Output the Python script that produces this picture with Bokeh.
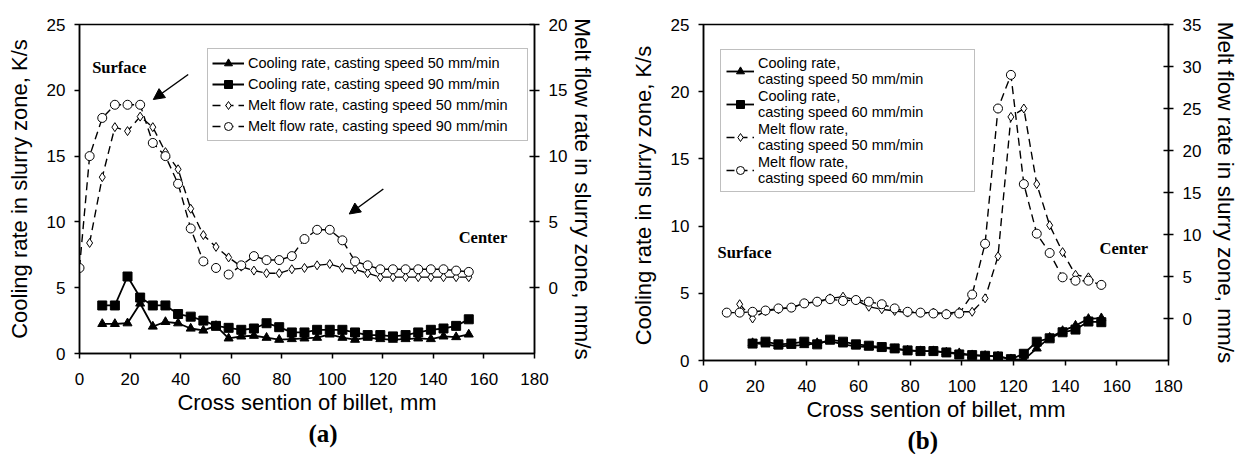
from bokeh.plotting import figure
from bokeh.models import (Range1d, LinearAxis, FixedTicker, Legend, LegendItem,
                          Arrow, NormalHead, Title, Label)
from bokeh.layouts import row
from bokeh.embed import file_html
from bokeh.resources import INLINE

# ---------------- data: panel (a) ----------------
xa_cool = [9, 14, 19, 24, 29, 34, 39, 44, 49, 54, 59, 64, 69, 74, 79, 84, 89, 94, 99, 104,
           109, 114, 119, 124, 129, 134, 139, 144, 149, 154]
cool50_a = [2.25, 2.25, 2.3, 3.8, 2.05, 2.4, 2.3, 1.9, 1.75, 2.1, 1.15, 1.3, 1.35, 1.2, 1.05,
            1.1, 1.15, 1.2, 1.45, 1.2, 1.05, 1.2, 1.1, 1.05, 1.1, 1.15, 1.1, 1.3, 1.25, 1.45]
cool90_a = [3.65, 3.65, 5.85, 4.25, 3.65, 3.65, 3.0, 2.8, 2.5, 2.1, 1.95, 1.8, 1.9, 2.3, 2.0,
            1.6, 1.6, 1.8, 1.8, 1.8, 1.6, 1.4, 1.4, 1.3, 1.4, 1.6, 1.8, 1.9, 2.1, 2.6]
xa_melt50 = [4, 9, 14, 19, 24, 29, 34, 39, 44, 49, 54, 59, 64, 69, 74, 79, 84, 89, 94, 99, 104,
             109, 114, 119, 124, 129, 134, 139, 144, 149, 154]
melt50_a = [3.4, 8.4, 12.2, 11.9, 13.0, 12.2, 10.3, 9.0, 6.0, 4.0, 3.1, 2.3, 1.6, 1.3, 1.1,
            1.1, 1.4, 1.5, 1.7, 1.8, 1.5, 1.4, 1.1, 0.8, 0.8, 0.8, 0.8, 0.8, 0.8, 0.8, 0.8]
xa_melt90 = [0, 4, 9, 14, 19, 24, 29, 34, 39, 44, 49, 54, 59, 64, 69, 74, 79, 84, 89, 94, 99,
             104, 109, 114, 119, 124, 129, 134, 139, 144, 149, 154]
melt90_a = [1.5, 10.0, 12.9, 13.9, 13.9, 13.9, 11.0, 10.0, 7.9, 4.5, 2.0, 1.5, 1.0, 1.7, 2.4,
            2.1, 2.1, 2.4, 3.7, 4.4, 4.4, 3.6, 2.0, 1.7, 1.4, 1.4, 1.4, 1.4, 1.4, 1.4, 1.3, 1.2]

# ---------------- data: panel (b) ----------------
xb_cool = [19, 24, 29, 34, 39, 44, 49, 54, 59, 64, 69, 74, 79, 84, 89, 94, 99, 104, 109, 114,
           119, 124, 129, 134, 139, 144, 149, 154]
cool50_b = [1.3, 1.2, 1.05, 1.1, 1.15, 1.3, 1.45, 1.2, 1.05, 1.0, 0.95, 0.85, 0.75, 0.7, 0.7,
            0.6, 0.55, 0.4, 0.35, 0.3, 0.1, 0.05, 0.9, 1.7, 2.2, 2.6, 3.1, 3.15]
cool60_b = [1.26, 1.4, 1.2, 1.26, 1.4, 1.2, 1.55, 1.4, 1.2, 1.1, 1.0, 0.9, 0.75, 0.7, 0.7, 0.6,
            0.45, 0.4, 0.35, 0.3, 0.1, 0.5, 1.4, 1.65, 2.1, 2.3, 2.9, 2.85]
xb_melt50 = [14, 19, 24, 29, 34, 39, 44, 49, 54, 59, 64, 69, 74, 79, 84, 89, 94, 99, 104, 109,
             114, 119, 124, 129, 134, 139, 144, 149, 154]
melt50_b = [1.7, 0.0, 0.9, 1.1, 1.3, 1.8, 2.0, 2.4, 2.6, 2.2, 1.4, 1.1, 0.9, 0.7, 0.7, 0.7, 0.6,
            0.8, 0.8, 2.4, 7.4, 24.0, 25.0, 16.0, 11.1, 7.9, 5.2, 4.9, 4.0]
xb_melt60 = [9, 14, 19, 24, 29, 34, 39, 44, 49, 54, 59, 64, 69, 74, 79, 84, 89, 94, 99, 104,
             109, 114, 119, 124, 129, 134, 139, 144, 149, 154]
melt60_b = [0.7, 0.7, 0.8, 0.95, 1.2, 1.3, 1.8, 2.0, 2.3, 2.1, 2.2, 2.0, 1.7, 1.2, 0.8, 0.7,
            0.6, 0.5, 0.6, 2.85, 8.9, 25.0, 29.0, 16.0, 10.1, 7.8, 4.9, 4.5, 4.5, 4.0]

x_ticks = [0, 20, 40, 60, 80, 100, 120, 140, 160, 180]
left_ticks = [0, 5, 10, 15, 20, 25]
right_ticks_a = [0, 5, 10, 15, 20]
right_ticks_b = [0, 5, 10, 15, 20, 25, 30, 35]

SANS = "Liberation Sans"
SERIF = "Liberation Serif"


def style_axis(ax, ticks):
    ax.ticker = FixedTicker(ticks=ticks)
    ax.axis_line_color = "black"
    ax.axis_line_width = 1.5
    ax.major_tick_line_color = "black"
    ax.major_tick_line_width = 1.5
    ax.minor_tick_line_color = None
    ax.major_label_text_font = SANS
    ax.major_label_text_font_size = "17px"
    ax.major_label_text_color = "black"
    ax.major_label_standoff = 9
    ax.axis_label_text_font = SANS
    ax.axis_label_text_font_size = "22px"
    ax.axis_label_text_font_style = "normal"
    ax.axis_label_text_color = "black"


def make_panel(frame, borders, right_range, right_ticks, ylabel, series, leg_cfg,
               legend_labels, letter, letter_offset, rlabel_standoff):
    fw, fh = frame
    bl, br, bt, bb = borders
    p = figure(frame_width=fw, frame_height=fh, output_backend="svg", toolbar_location=None,
               x_range=Range1d(0, 180), y_range=Range1d(0, 25),
               min_border_left=bl, min_border_right=br, min_border_top=bt,
               min_border_bottom=bb)
    p.extra_y_ranges = {"flow": Range1d(*right_range)}
    p.xgrid.visible = False
    p.ygrid.visible = False
    p.outline_line_color = "black"
    p.outline_line_width = 1.5
    p.background_fill_color = "white"
    p.border_fill_color = "white"

    style_axis(p.xaxis[0], x_ticks)
    p.xaxis[0].axis_label = "Cross sention of billet, mm"
    p.xaxis[0].major_tick_in = 0
    p.xaxis[0].major_tick_out = 5
    p.xaxis[0].major_label_standoff = 14
    p.xaxis[0].axis_label_standoff = 2
    style_axis(p.yaxis[0], left_ticks)
    p.yaxis[0].axis_label = ylabel
    p.yaxis[0].major_tick_in = 0
    p.yaxis[0].major_tick_out = 5
    p.yaxis[0].axis_label_standoff = 12

    rax = LinearAxis(y_range_name="flow")
    style_axis(rax, right_ticks)
    rax.axis_label = "Melt flow rate in slurry zone, mm/s"
    rax.axis_label_text_font_size = "22.5px"
    rax.major_tick_in = 5
    rax.major_tick_out = 5
    rax.axis_label_standoff = rlabel_standoff
    p.add_layout(rax, "right")

    items = []
    for (xs, ys, marker, size, fill, dash, lw, rng), lab in zip(series, legend_labels):
        kw = {} if rng is None else {"y_range_name": rng}
        ln = p.line(xs, ys, line_color="black", line_width=lw, line_dash=dash, **kw)
        sc = p.scatter(xs, ys, marker=marker, size=size, fill_color=fill,
                       line_color="black", line_width=1, **kw)
        items.append(LegendItem(label=lab, renderers=[ln, sc]))

    loc, gw, gh, lh, lw_, sp, pad = leg_cfg
    leg = Legend(items=items, location=loc)
    leg.border_line_color = "#808080"
    leg.border_line_width = 1
    leg.background_fill_color = "white"
    leg.background_fill_alpha = 1
    leg.label_text_font = SANS
    leg.label_text_font_size = "14.5px"
    leg.label_text_color = "black"
    leg.label_text_line_height = 1.15
    leg.glyph_width = gw
    leg.glyph_height = gh
    leg.label_height = lh
    leg.label_width = lw_
    leg.spacing = sp
    leg.padding = pad
    leg.margin = 0
    leg.label_standoff = 4
    p.add_layout(leg, "center")

    t = Title(text=letter, align="left", text_font=SERIF, text_font_size="25px",
              text_font_style="bold", text_color="black", offset=letter_offset,
              standoff=0)
    p.add_layout(t, "below")
    return p


series_a = [
    (xa_cool, cool50_a, "triangle", 9, "black", "solid", 1.8, None),
    (xa_cool, cool90_a, "square", 9, "black", "solid", 1.8, None),
    (xa_melt50, melt50_a, "diamond", 9, "white", "8 5", 1.4, "flow"),
    (xa_melt90, melt90_a, "circle", 9, "white", "8 5", 1.4, "flow"),
]
labels_a = ["Cooling rate, casting speed 50 mm/min",
            "Cooling rate, casting speed 90 mm/min",
            "Melt flow rate, casting speed 50 mm/min",
            "Melt flow rate, casting speed 90 mm/min"]

series_b = [
    (xb_cool, cool50_b, "triangle", 9, "black", "solid", 1.8, None),
    (xb_cool, cool60_b, "square", 9, "black", "solid", 1.8, None),
    (xb_melt50, melt50_b, "diamond", 9, "white", "8 5", 1.4, "flow"),
    (xb_melt60, melt60_b, "circle", 9, "white", "8 5", 1.4, "flow"),
]
labels_b = ["Cooling rate,\ncasting speed 50 mm/min",
            "Cooling rate,\ncasting speed 60 mm/min",
            "Melt flow rate,\ncasting speed 50 mm/min",
            "Melt flow rate,\ncasting speed 60 mm/min"]

# legend cfg: location, glyph_w, glyph_h, label_h, label_w, spacing, padding
pa = make_panel((455, 329), (79, 74, 24, 100), (-5, 20), right_ticks_a,
                "Cooling rate in slurry zone, K/s", series_a,
                ((128, 212), 32, 20, 20, 275, 1, 4), labels_a, "(a)", 229, 0)
pb = make_panel((465, 336), (95, 68, 23, 95), (-5, 35), right_ticks_b,
                "Cooling rate in slurry zone,  K/s", series_b,
                ((17, 168), 28, 20, 31, 211, 1, 5), labels_b, "(b)", 204, 9)

# annotations (a)
for (x, y, txt) in [(5, 21.7, "Surface"), (150, 8.8, "Center")]:
    pa.add_layout(Label(x=x, y=y, text=txt, text_font=SERIF, text_font_size="16.5px",
                        text_font_style="bold", text_baseline="middle", text_color="black"))
for (x0, y0, x1, y1) in [(43, 21.2, 29.2, 19.3), (120.2, 12.5, 106.7, 10.6)]:
    pa.add_layout(Arrow(end=NormalHead(size=11, fill_color="black", line_color="black"),
                        x_start=x0, y_start=y0, x_end=x1, y_end=y1,
                        line_color="black", line_width=1.5))
# annotations (b)
for (x, y, txt) in [(5.4, 8.0, "Surface"), (153.3, 8.3, "Center")]:
    pb.add_layout(Label(x=x, y=y, text=txt, text_font=SERIF, text_font_size="16.5px",
                        text_font_style="bold", text_baseline="middle", text_color="black"))

layout = row(pa, pb)
open("out.html", "w").write(file_html(layout, INLINE))
